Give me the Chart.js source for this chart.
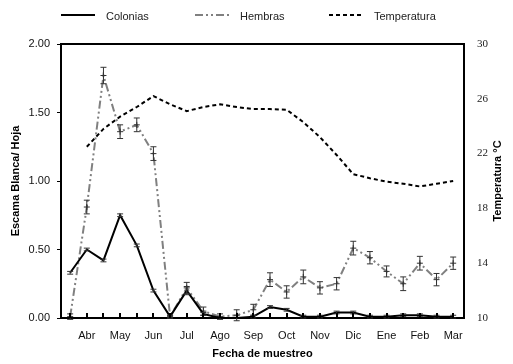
<!DOCTYPE html>
<html>
<head>
<meta charset="utf-8">
<script src="https://cdn.jsdelivr.net/npm/chart.js"></script>
<style>
  html, body { margin: 0; padding: 0; background: #fff; }
  #wrap { width: 513px; height: 364px; }
</style>
</head>
<body>
<div id="wrap"><canvas id="chart"></canvas></div>
<script>
// sampling dates are every two weeks, the month names sit on the odd ones
const months = ['Abr','May','Jun','Jul','Ago','Sep','Oct','Nov','Dic','Ene','Feb','Mar'];
const colonias    = [0.33,0.50,0.42,0.75,0.53,0.20,0.01,0.20,0.03,0.00,0.00,0.01,0.08,0.06,0.01,0.01,0.04,0.04,0.01,0.01,0.02,0.02,0.01,0.01];
const coloniasErr = [0.01,0.01,0.01,0.01,0.01,0.01,0.01,0.03,0.01,0.00,0.00,0.01,0.01,0.01,0.01,0.01,0.01,0.01,0.01,0.01,0.01,0.01,0.01,0.01];
const hembras     = [0.01,0.81,1.77,1.36,1.41,1.20,0.01,0.22,0.05,0.01,0.02,0.06,0.28,0.19,0.30,0.22,0.25,0.51,0.44,0.34,0.25,0.40,0.28,0.40];
const hembrasErr  = [0.02,0.05,0.06,0.05,0.05,0.05,0.01,0.04,0.03,0.02,0.04,0.04,0.05,0.045,0.05,0.045,0.045,0.05,0.045,0.04,0.05,0.05,0.045,0.045];
const temperatura = [null,22.5,23.8,24.7,25.4,26.2,25.6,25.1,25.4,25.6,25.4,25.25,25.25,25.2,24.3,23.2,21.9,20.5,20.2,19.95,19.8,19.6,19.8,20.0];

const pts = arr => arr.map((v, i) => ({x: i, y: v}));
const FONT = '"Liberation Sans", Arial, sans-serif';

// error bars, drawn with the dataset's own scales
const errorBars = {
  id: 'errorBars',
  afterDatasetsDraw(chart) {
    const ctx = chart.ctx;
    chart.data.datasets.forEach((ds, di) => {
      if (!ds.err) return;
      const xs = chart.scales.x, ys = chart.scales[ds.yAxisID];
      ctx.save();
      ctx.strokeStyle = '#333';
      ctx.lineWidth = 1;
      ds.data.forEach((p, i) => {
        const e = ds.err[i];
        if (p.y == null || !e) return;
        const x = xs.getPixelForValue(p.x);
        const y1 = ys.getPixelForValue(p.y + e), y2 = ys.getPixelForValue(p.y - e);
        ctx.beginPath();
        ctx.moveTo(x, y1); ctx.lineTo(x, y2);
        ctx.moveTo(x - 3, y1); ctx.lineTo(x + 3, y1);
        ctx.moveTo(x - 3, y2); ctx.lineTo(x + 3, y2);
        ctx.stroke();
      });
      ctx.restore();
    });
  }
};

// frame, inner x ticks, right title and legend
const decor = {
  id: 'decor',
  afterDraw(chart) {
    const ctx = chart.ctx, a = chart.chartArea, xs = chart.scales.x;
    ctx.save();
    ctx.strokeStyle = '#000';
    ctx.lineWidth = 2;
    ctx.beginPath();
    ctx.moveTo(a.left - 1, a.top); ctx.lineTo(a.right + 1, a.top);
    ctx.stroke();
    for (let i = 0; i < colonias.length; i++) {
      const x = Math.round(xs.getPixelForValue(i));
      ctx.beginPath();
      ctx.moveTo(x, a.bottom); ctx.lineTo(x, a.bottom - 5);
      ctx.stroke();
    }
    // right axis title, reading upward
    ctx.fillStyle = '#000';
    ctx.font = 'bold 11px ' + FONT;
    ctx.textAlign = 'center';
    ctx.textBaseline = 'middle';
    ctx.translate(498, (a.top + a.bottom) / 2);
    ctx.rotate(-Math.PI / 2);
    ctx.fillText('Temperatura °C', 0, 0);
    ctx.restore();

    // legend
    const items = [
      {x: 61, text: 'Colonias', color: '#000', dash: []},
      {x: 195, text: 'Hembras', color: '#808080', dash: [8,3,2,3,2,3]},
      {x: 329, text: 'Temperatura', color: '#000', dash: [4,3]}
    ];
    ctx.save();
    ctx.font = '11px ' + FONT;
    ctx.textBaseline = 'middle';
    items.forEach(it => {
      ctx.strokeStyle = it.color;
      ctx.lineWidth = 2;
      ctx.setLineDash(it.dash);
      ctx.beginPath();
      ctx.moveTo(it.x, 15); ctx.lineTo(it.x + 34, 15);
      ctx.stroke();
      ctx.fillStyle = '#222';
      ctx.fillText(it.text, it.x + 45, 16.5);
    });
    ctx.restore();
  }
};

new Chart(document.getElementById('chart'), {
  type: 'line',
  data: {
    datasets: [
      {
        label: 'Colonias', data: pts(colonias), err: coloniasErr, yAxisID: 'y',
        borderColor: '#000', borderWidth: 2, pointRadius: 0, tension: 0
      },
      {
        label: 'Hembras', data: pts(hembras), err: hembrasErr, yAxisID: 'y',
        borderColor: '#808080', borderWidth: 2, borderDash: [8,3,2,3,2,3],
        pointStyle: 'cross', pointRadius: 3, pointBorderColor: '#333', pointBorderWidth: 1, tension: 0
      },
      {
        label: 'Temperatura', data: pts(temperatura), yAxisID: 'y1',
        borderColor: '#000', borderWidth: 2, borderDash: [4,3], pointRadius: 0, tension: 0
      }
    ]
  },
  options: {
    responsive: true,
    maintainAspectRatio: false,
    animation: false,
    devicePixelRatio: 1,
    layout: { padding: { top: 44, left: 0, right: 0, bottom: 0 } },
    plugins: { legend: { display: false }, tooltip: { enabled: false } },
    scales: {
      x: {
        type: 'linear', min: -0.55, max: 23.65,
        afterFit: s => { s.height = 46; },
        afterBuildTicks: s => { s.ticks = months.map((m, k) => ({value: 2 * k + 1})); },
        grid: { display: true, drawOnChartArea: false, drawTicks: false },
        border: { color: '#000', width: 2 },
        ticks: {
          autoSkip: false, maxRotation: 0, padding: 11, color: '#111',
          font: { family: FONT, size: 11 },
          callback: v => months[(v - 1) / 2] || ''
        },
        title: {
          display: true, text: 'Fecha de muestreo', color: '#000',
          font: { family: FONT, size: 11, weight: 'bold' },
          padding: { top: 0, bottom: 3 }
        }
      },
      y: {
        position: 'left', min: 0, max: 2,
        afterFit: s => { s.width = 61; },
        grid: { display: true, drawOnChartArea: false, tickLength: 4, color: '#000' },
        border: { color: '#000', width: 2 },
        ticks: {
          stepSize: 0.5, padding: 7, color: '#111',
          font: { family: FONT, size: 11 },
          callback: v => v.toFixed(2)
        },
        title: {
          display: true, text: 'Escama Blanca/ Hoja', color: '#000',
          font: { family: FONT, size: 11, weight: 'bold' },
          padding: { top: 9, bottom: 0 }
        }
      },
      y1: {
        position: 'right', min: 10, max: 30,
        afterFit: s => { s.width = 49; },
        grid: { display: true, drawOnChartArea: false, drawTicks: false },
        border: { color: '#000', width: 2 },
        ticks: {
          stepSize: 4, padding: 13, color: '#222',
          font: { family: '"Liberation Serif", "Times New Roman", serif', size: 11 }
        }
      }
    }
  },
  plugins: [errorBars, decor]
});
</script>
</body>
</html>
